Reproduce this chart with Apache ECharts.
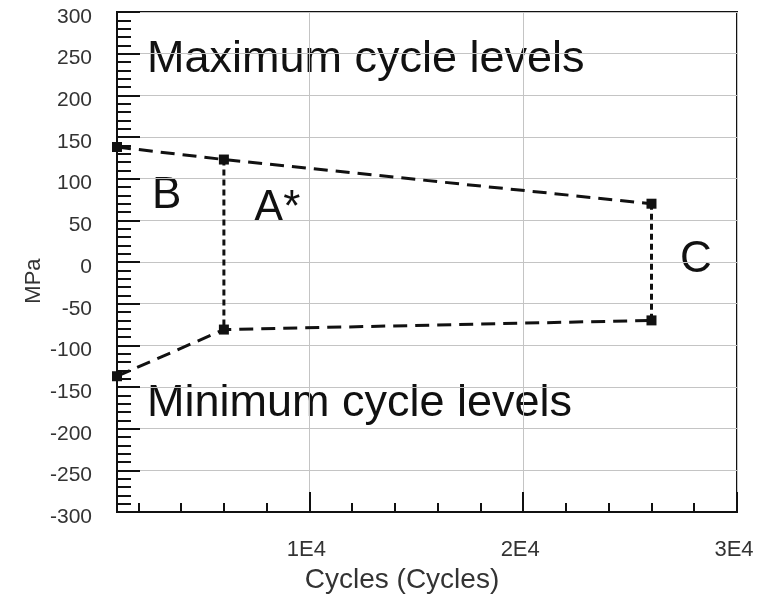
<!DOCTYPE html>
<html>
<head>
<meta charset="utf-8">
<script src="https://cdn.jsdelivr.net/npm/echarts@6/dist/echarts.min.js"></script>
<style>
  html, body { margin: 0; padding: 0; background: #fff; }
  #chart { width: 764px; height: 599px; }
</style>
</head>
<body>
<div id="chart"></div>
<script>
// Load blocks: cycle count at each block boundary, and the stress envelope
const cycles = [1000, 6000, 26000];
const maxLevels = [138, 123, 70];   // MPa, maximum cycle levels
const minLevels = [-137, -81, -70]; // MPa, minimum cycle levels

// Axis ticks
const xMajorTicks = [10000, 20000, 30000];
const xMinorTicks = [2000, 4000, 6000, 8000, 12000, 14000, 16000, 18000, 22000, 24000, 26000, 28000];
const yRange = [-300, 300];
const xRange = [1000, 30000];

const FONT = '"Liberation Sans", Arial, sans-serif';
const INK = '#111';

const upper = cycles.map((c, i) => [c, maxLevels[i]]);
const lower = cycles.map((c, i) => [c, minLevels[i]]);
// Vertical block boundaries at the A* and C transitions
const boundaryA = [[cycles[1], maxLevels[1]], [cycles[1], minLevels[1]]];
const boundaryC = [[cycles[2], maxLevels[2]], [cycles[2], minLevels[2]]];

const chart = echarts.init(document.getElementById('chart'), null, { renderer: 'canvas' });

function envelope(data) {
  return {
    type: 'line',
    data: data,
    xAxisIndex: 0,
    symbol: 'rect',
    symbolSize: 10,
    itemStyle: { color: INK },
    lineStyle: { color: INK, width: 3, type: [14, 8] },
    animation: false,
    z: 5
  };
}
function boundary(data) {
  return {
    type: 'line',
    data: data,
    xAxisIndex: 0,
    symbol: 'none',
    lineStyle: { color: INK, width: 3, type: [6, 4] },
    animation: false,
    z: 4
  };
}

chart.setOption({
  backgroundColor: '#fff',
  animation: false,
  grid: {
    left: 117, right: 27, top: 12, bottom: 83,
    show: true, borderColor: INK, borderWidth: 2
  },
  xAxis: [
    {
      type: 'value',
      position: 'bottom',
      min: xRange[0], max: xRange[1],
      name: 'Cycles (Cycles)',
      nameLocation: 'middle',
      nameGap: 50,
      nameTextStyle: { fontFamily: FONT, fontSize: 28, color: '#333', padding: [0, 50, 0, 0] },
      axisLine: { show: true, onZero: false, lineStyle: { color: INK, width: 2 } },
      axisTick: { show: true, inside: true, length: 20, customValues: xMajorTicks, lineStyle: { color: INK, width: 2 } },
      axisLabel: {
        customValues: xMajorTicks,
        margin: 27,
        fontFamily: FONT, fontSize: 22, color: '#333',
        padding: [0, 6, 0, 0],
        formatter: v => (v / 10000) + 'E4'
      },
      splitLine: { show: true, lineStyle: { color: '#c4c4c4', width: 1 } }
    },
    {
      type: 'value',
      position: 'bottom',
      gridIndex: 0,
      min: xRange[0], max: xRange[1],
      axisLine: { show: false, onZero: false },
      axisTick: { show: true, inside: true, length: 9, customValues: xMinorTicks, lineStyle: { color: INK, width: 2 } },
      axisLabel: { show: false },
      splitLine: { show: false }
    }
  ],
  yAxis: {
    type: 'value',
    min: yRange[0], max: yRange[1], interval: 50,
    name: 'MPa',
    nameLocation: 'middle',
    nameGap: 72,
    nameMoveOverlap: false,
    nameTextStyle: { fontFamily: FONT, fontSize: 22, color: '#333', padding: [0, 38, 0, 0] },
    axisLine: { show: true, onZero: false, lineStyle: { color: INK, width: 2 } },
    axisTick: { show: true, inside: true, length: 23, lineStyle: { color: INK, width: 2 } },
    minorTick: { show: true, splitNumber: 5, length: 14, lineStyle: { color: INK, width: 2 } },
    axisLabel: {
      margin: 25, fontFamily: FONT, fontSize: 21, color: '#333',
      verticalAlign: 'top', lineHeight: 10
    },
    splitLine: { show: true, lineStyle: { color: '#c4c4c4', width: 1 } }
  },
  series: [
    envelope(upper),
    envelope(lower),
    boundary(boundaryA),
    boundary(boundaryC)
  ],
  graphic: [
    { type: 'text', left: 147, top: 37, style: { text: 'Maximum cycle levels', font: '45px ' + FONT, fill: INK } },
    { type: 'text', left: 147, top: 381, style: { text: 'Minimum cycle levels', font: '45px ' + FONT, fill: INK } },
    { type: 'text', left: 152, top: 174, style: { text: 'B', font: '44px ' + FONT, fill: INK } },
    { type: 'text', left: 254, top: 187, style: { text: 'A*', font: '44px ' + FONT, fill: INK } },
    { type: 'text', left: 680, top: 238, style: { text: 'C', font: '44px ' + FONT, fill: INK } }
  ]
});
</script>
</body>
</html>
